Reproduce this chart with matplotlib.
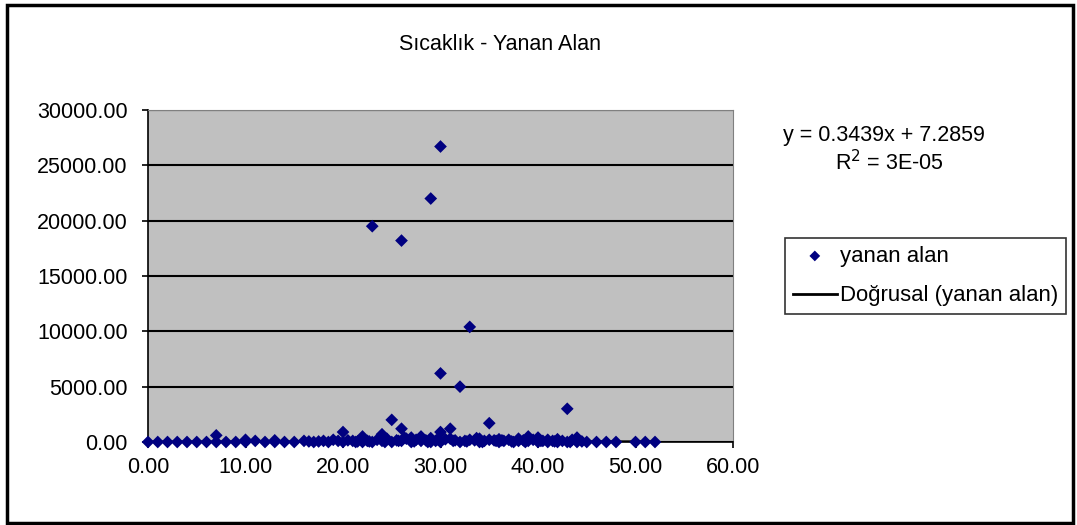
import matplotlib
matplotlib.use("Agg")
import matplotlib.pyplot as plt
from matplotlib.patches import Rectangle

plt.rcParams['font.family'] = ['Liberation Sans', 'DejaVu Sans']

# sicaklik (x) ve yanan alan (y), grafikten okunan degerler
# her satirda 10 deger
sicaklik = [0, 1, 2, 3, 4, 5, 6, 7, 7, 8,
            9, 10, 10, 11, 12, 13, 13, 14, 15, 16,
            17, 17.5, 18, 18.5, 19, 19.5, 20, 20, 20.5, 21,
            21.5, 22, 22, 22.5, 23, 23, 23.5, 24, 24, 24.5,
            25, 25, 25.5, 26, 26, 26, 26.5, 27, 27, 27.5,
            28, 28, 28.5, 29, 29, 29, 29.5, 30, 30, 30,
            30, 30.5, 31, 31, 31.5, 32, 32, 32.5, 33, 33,
            33.5, 34, 34, 34.5, 35, 35, 35.5, 36, 36, 36.5,
            37, 37.5, 38, 38, 38.5, 39, 39, 39.5, 40, 40,
            40.5, 41, 41, 41.5, 42, 42, 42.5, 43, 43, 43.5,
            44, 44, 45, 46, 47, 48, 50, 51, 52, 16.5,
            21.3, 22.7, 24.3, 25.7, 27.3, 28.7, 31.3, 32.7, 34.3, 35.7,
            37.3, 38.7, 40.3, 41.7, 43.3, 44.5, 26.3, 29.7, 33.7, 36.3]
yanan_alan = [0, 0, 0, 0, 0, 0, 0, 0, 600, 0,
              0, 0, 200, 100, 0, 0, 150, 0, 0, 100,
              0, 50, 100, 0, 200, 100, 0, 900, 150, 100,
              50, 0, 500, 100, 0, 19500, 200, 100, 700, 300,
              0, 2000, 150, 100, 1200, 18200, 300, 0, 400, 200,
              100, 500, 150, 0, 350, 22000, 100, 0, 900, 6200,
              26700, 250, 300, 1200, 150, 0, 5000, 100, 200, 10400,
              150, 0, 300, 100, 200, 1700, 150, 0, 250, 100,
              200, 0, 100, 300, 150, 100, 500, 200, 0, 400,
              100, 0, 200, 100, 0, 250, 100, 0, 3000, 200,
              0, 400, 0, 0, 0, 0, 0, 0, 0, 50,
              0, 50, 0, 100, 50, 0, 100, 50, 0, 100,
              50, 0, 100, 50, 0, 50, 400, 250, 350, 150]

# dogrusal egilim cizgisi (Excel'in verdigi katsayilar)
egim = 0.3439
kesisim = 7.2859
x_ticks = [0, 10, 20, 30, 40, 50, 60]
y_ticks = [0, 5000, 10000, 15000, 20000, 25000, 30000]

W, H = 1077, 525
fig = plt.figure(figsize=(W / 100, H / 100), dpi=100)
ax = fig.add_axes([148 / W, 1 - 442 / H, 585 / W, 332 / H])
ax.set_facecolor('#c0c0c0')

fs = 15.5
ax.scatter(sicaklik, yanan_alan, marker='D', s=42, color='#000080',
           edgecolors='none', zorder=3, label='yanan alan', clip_on=False)
xmin, xmax = min(sicaklik), max(sicaklik)
ax.plot([xmin, xmax], [egim * xmin + kesisim, egim * xmax + kesisim],
        color='black', lw=2, zorder=2, label='Doğrusal (yanan alan)')

ax.set_xlim(0, 60)
ax.set_ylim(0, 30000)
ax.set_xticks(x_ticks)
ax.set_yticks(y_ticks)
ax.set_xticklabels([f"{v:.2f}" for v in x_ticks], fontsize=fs)
ax.set_yticklabels([f"{v:.2f}" for v in y_ticks], fontsize=fs)
ax.tick_params(length=4.5, width=1.2, color='black', pad=6)
ax.tick_params(axis='y', pad=10)
ax.grid(axis='y', color='black', lw=1.5, zorder=1)
ax.set_axisbelow(True)
for side in ['top', 'right']:
    ax.spines[side].set_color('#808080')
for side in ['left', 'bottom']:
    ax.spines[side].set_color('black')
    ax.spines[side].set_linewidth(1.2)

fig.text(500 / W, 1 - 44 / H, 'Sıcaklık - Yanan Alan', fontsize=fs,
         ha='center', va='center')
fig.text(783 / W, 1 - 135 / H, 'y = 0.3439x + 7.2859', fontsize=fs,
         ha='left', va='center')
fig.text(835 / W, 1 - 163 / H, 'R$^2$ = 3E-05', fontsize=fs,
         ha='left', va='center')

leg = ax.legend(loc='upper left', bbox_to_anchor=(785 / W, 1 - 238 / H),
                bbox_transform=fig.transFigure, borderaxespad=0, fontsize=15.9,
                frameon=True, fancybox=False, edgecolor='black',
                handlelength=2.0, handletextpad=0.15, borderpad=0.35,
                labelspacing=0.85, scatterpoints=1)
leg.get_frame().set_linewidth(1.2)
leg.legend_handles[0].set_sizes([30])

fig.patches.append(Rectangle((7 / W, 2 / H), 1066 / W, 518 / H,
                             transform=fig.transFigure, fill=False,
                             edgecolor='black', lw=2.5))

fig.savefig('out.png', dpi=100)
